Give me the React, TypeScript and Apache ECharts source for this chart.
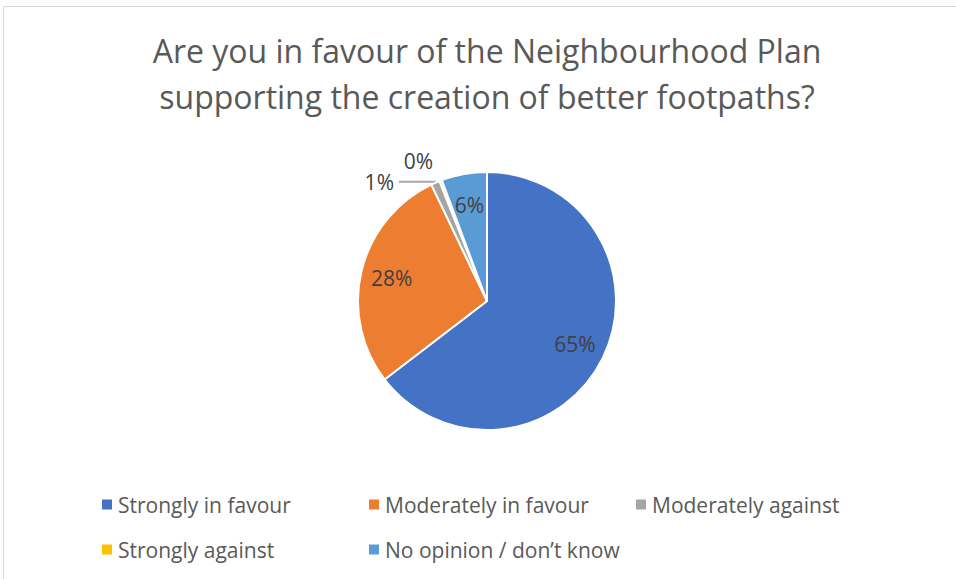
import React, { useEffect, useRef } from "react";
import * as echarts from "echarts";

const titleLines = [
  "Are you in favour of the Neighbourhood Plan",
  "supporting the creation of better footpaths?",
];
const categories = [
  "Strongly in favour",
  "Moderately in favour",
  "Moderately against",
  "Strongly against",
  "No opinion / don\u2019t know",
];
const values = [64.6, 28.3, 1.1, 0.3, 5.7];
const colors = ["#4472C4", "#ED7D31", "#A5A5A5", "#FFC000", "#5B9BD5"];
const insideLabelled = [true, true, false, false, true];

const FONT = "Open Sans";

export default function App() {
  const ref = useRef<HTMLDivElement>(null);
  useEffect(() => {
    if (!ref.current) return;
    const chart = echarts.init(ref.current, undefined, { renderer: "svg" });
    const total = values.reduce((a, b) => a + b, 0);
    const pct = (v: number) => `${Math.round((v / total) * 100)}%`;

    const mainData = categories.map((name, i) => {
      const d: any = {
        name,
        value: values[i],
        itemStyle: { color: colors[i] },
        label: { show: false },
        labelLine: { show: false },
      };
      if (i === 2) {
        d.label = { show: true, position: "outside", distanceToLabelLine: 5, padding: [0, 0, 14, 0] };
        d.labelLine = { show: true, length: 1, length2: 36, lineStyle: { color: "#A6A6A6", width: 2 } };
      }
      if (i === 3) {
        d.label = { show: true, position: "outside", distanceToLabelLine: 0 };
        d.labelLine = { show: false, length: 21, length2: 0 };
      }
      return d;
    });

    const labelData = categories.map((name, i) => ({
      name,
      value: values[i],
      itemStyle: { color: "rgba(0,0,0,0)" },
      label: { show: insideLabelled[i] },
    }));

    chart.setOption({
      animation: false,
      title: {
        text: titleLines.join("\n"),
        left: 487,
        textAlign: "center",
        top: 27,
        padding: 0,
        textStyle: {
          fontFamily: FONT,
          fontSize: 32,
          fontWeight: "normal",
          color: "#595959",
          lineHeight: 46,
        },
      },
      legend: {
        data: categories,
        left: 100,
        top: 487,
        width: 800,
        padding: 0,
        itemWidth: 12,
        itemHeight: 12,
        itemGap: 10,
        icon: "rect",
        textStyle: {
          fontFamily: FONT,
          fontSize: 21,
          color: "#595959",
          width: 239,
          lineHeight: 35,
        },
      },
      graphic: [
        {
          type: "rect",
          shape: { x: 3.5, y: 6.5, width: 1000, height: 1000 },
          style: { fill: "none", stroke: "#D9D9D9", lineWidth: 1 },
          silent: true,
        },
      ],
      series: [
        {
          type: "pie",
          center: [487, 301],
          radius: [0, 129],
          startAngle: 90,
          clockwise: true,
          avoidLabelOverlap: false,
          itemStyle: { borderColor: "#FFFFFF", borderWidth: 2 },
          label: {
            fontFamily: FONT,
            fontSize: 21,
            color: "#404040",
            formatter: (p: any) => pct(p.value),
          },
          emphasis: { disabled: true },
          data: mainData,
        },
        {
          type: "pie",
          center: [487, 301],
          radius: [0, 190],
          startAngle: 90,
          clockwise: true,
          silent: true,
          avoidLabelOverlap: false,
          legendHoverLink: false,
          label: {
            position: "inside",
            fontFamily: FONT,
            fontSize: 21,
            color: "#404040",
            formatter: (p: any) => pct(p.value),
          },
          labelLine: { show: false },
          emphasis: { disabled: true },
          data: labelData,
        },
      ],
    });
    return () => chart.dispose();
  }, []);
  return (
    <div
      ref={ref}
      style={{ position: "absolute", left: 0, top: 0, width: 956, height: 579 }}
    />
  );
}
